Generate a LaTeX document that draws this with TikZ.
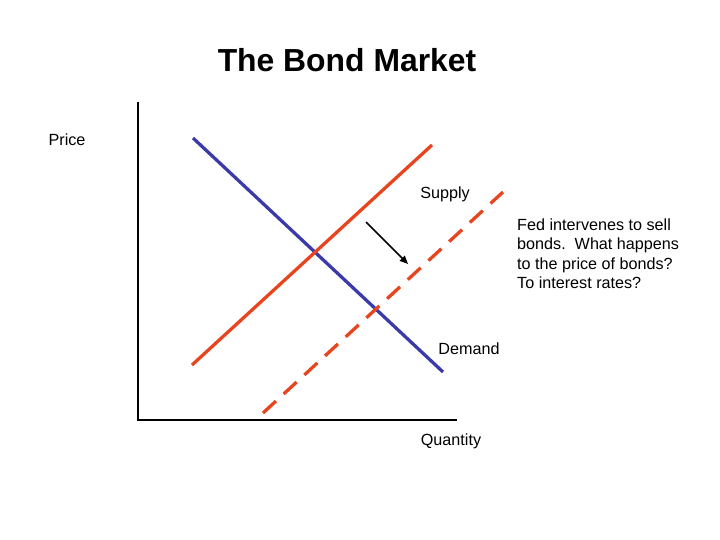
\documentclass[tikz,border=0pt]{standalone}
\usepackage{fontspec}
\setmainfont{Liberation Sans}
\usetikzlibrary{arrows.meta,positioning}

\definecolor{supplyred}{HTML}{E8441E}
\definecolor{demandblue}{HTML}{3A3AAA}

\begin{document}
\begin{tikzpicture}[
    x=0.03cm, y=-0.03cm,
    axis/.style={draw, line width=1.2pt},
    curve/.style={line width=2.8pt},
    label/.style={font=\fontsize{13.8pt}{16.5pt}\selectfont, inner sep=0pt, anchor=base},
    heading/.style={font=\fontsize{27.2pt}{32pt}\selectfont\bfseries, inner sep=0pt, anchor=base}
]
\useasboundingbox (0,0) rectangle (720,540);

% Points
\coordinate (origin) at (138,420);
\coordinate (ytop) at (138,102);
\coordinate (xend) at (457,420);
\coordinate (d1) at (193,138);
\coordinate (d2) at (443,372);
\coordinate (s1) at (192,365);
\coordinate (s2) at (432,145);
\coordinate (n1) at (263,413);
\coordinate (n2) at (503,192);
\coordinate (shiftstart) at (366,222);
\coordinate (shiftend) at (408,264);

% Nodes
\node[heading] (title) at (347,72) {The Bond Market};
\node[label] (price) at (67,146) {Price};
\node[label] (supply) at (445,199) {Supply};
\node[label] (demand) at (469,355) {Demand};
\node[label] (quantity) at (451,445) {Quantity};
\node[label, anchor=north west, align=left] (question) at (517,218.5)
    {Fed intervenes to sell\\bonds.\ \ What happens\\to the price of bonds?\\To interest rates?};

% Axes
\draw[axis] (ytop) -- (origin) -- (xend);

% Curves
\draw[curve, demandblue] (d1) -- (d2);
\draw[curve, supplyred] (s1) -- (s2);
\draw[curve, supplyred, dash pattern=on 15 off 9] (n1) -- (n2);

% Shift
\draw[-{Triangle[length=7pt,width=6pt]}, line width=1.3pt] (shiftstart) -- (shiftend);

\end{tikzpicture}
\end{document}
